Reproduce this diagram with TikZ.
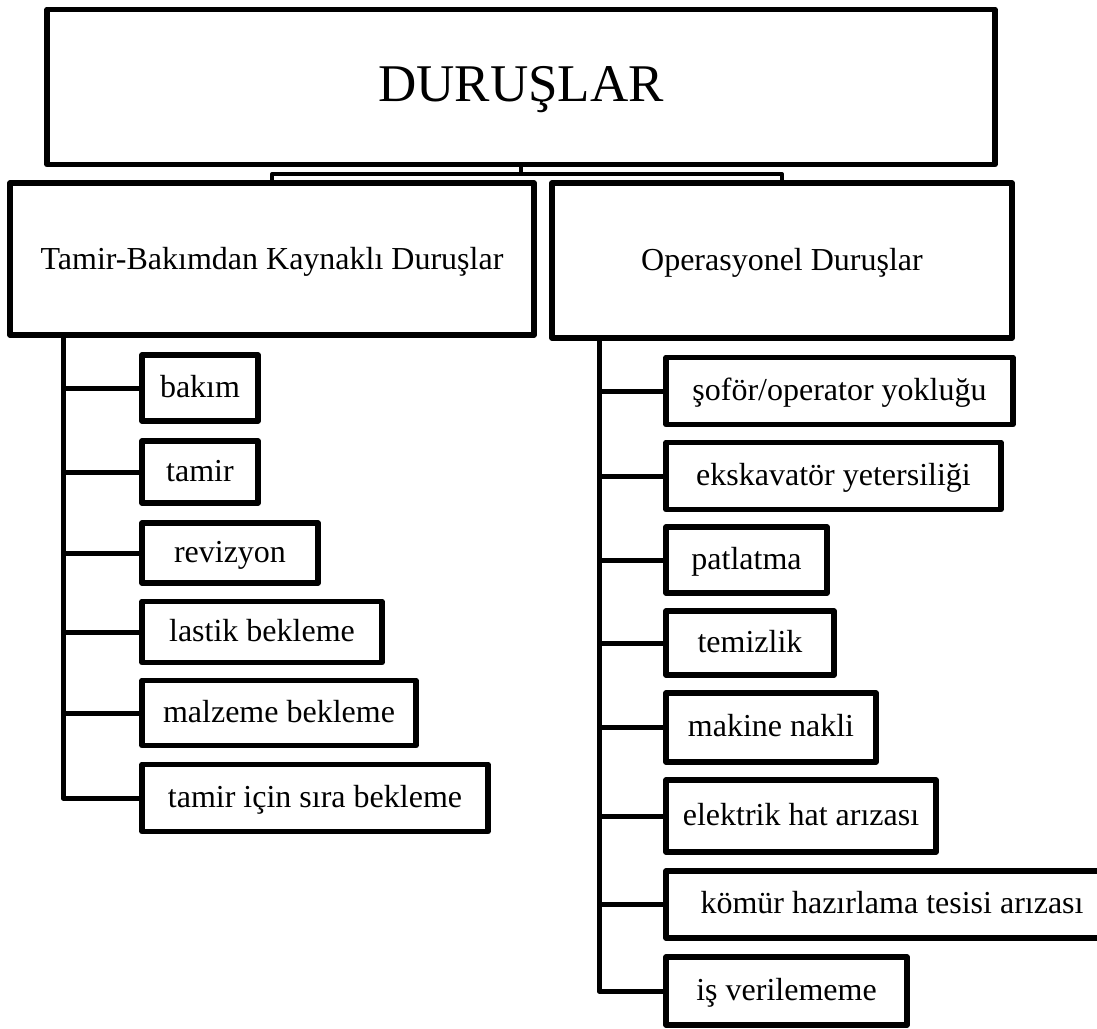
\documentclass[tikz,border=0pt]{standalone}
\usepackage{fontspec}
\setmainfont{Liberation Serif}
\tikzset{
  box/.style={draw, line width=5.5pt, inner sep=0pt, outer sep=0pt, align=center, line join=round, fill=white},
  itemtxt/.style={font=\fontsize{32}{38}\selectfont, text height=23pt, text depth=5pt},
  headtxt/.style={font=\fontsize{32}{38}\selectfont, text height=24pt, text depth=4pt},
  toptxt/.style={font=\fontsize{53}{60}\selectfont, text height=35pt, text depth=7pt},
  conn/.style={line width=5pt, line join=round},
  thinconn/.style={line width=4pt, line join=round}
}
\begin{document}
\begin{tikzpicture}[x=1pt, y=-1pt]
\useasboundingbox (0,0) rectangle (1097,1028);
\clip (0,0) rectangle (1097,1028);
% top
\node[box, toptxt, minimum width=948, minimum height=155] (T) at (521,87) {DURUŞLAR};
\coordinate (bar) at (521,174);
\draw[thinconn] (T.south) -- (bar);
% headers
\node[box, headtxt, minimum width=524, minimum height=152] (L) at (272,259) {Tamir-Bakımdan Kaynaklı Duruşlar};
\node[box, headtxt, minimum width=460, minimum height=155] (R) at (782,260.5) {Operasyonel Duruşlar};
\draw[thinconn] (L.north) |- (bar) -| (R.north);
% left items
\node[box, itemtxt, minimum width=116, minimum height=66] (a1) at (200,388) {bakım};
\node[box, itemtxt, minimum width=116, minimum height=62] (a2) at (200,472) {tamir};
\node[box, itemtxt, minimum width=176, minimum height=60] (a3) at (230,553) {revizyon};
\node[box, itemtxt, minimum width=240, minimum height=61] (a4) at (262,632) {lastik bekleme};
\node[box, itemtxt, minimum width=274, minimum height=65] (a5) at (279,713) {malzeme bekleme};
\node[box, itemtxt, minimum width=346, minimum height=67] (a6) at (315,798) {tamir için sıra bekleme};
\coordinate (lt) at (63,335);
\draw[conn] (lt) |- (a6.west);
\foreach \n in {a1,a2,a3,a4,a5} {\draw[conn] (lt |- \n.west) -- (\n.west);}
% right items
\node[box, itemtxt, minimum width=347, minimum height=67] (b1) at (839.5,391) {şoför/operator yokluğu};
\node[box, itemtxt, minimum width=335, minimum height=67] (b2) at (833.5,476) {ekskavatör yetersiliği};
\node[box, itemtxt, minimum width=161, minimum height=66] (b3) at (746.5,560) {patlatma};
\node[box, itemtxt, minimum width=168, minimum height=64] (b4) at (750,643) {temizlik};
\node[box, itemtxt, minimum width=210, minimum height=69] (b5) at (771,727.5) {makine nakli};
\node[box, itemtxt, minimum width=270, minimum height=72] (b6) at (801,816) {elektrik hat arızası};
\node[box, itemtxt, minimum width=452, minimum height=67] (b7) at (892,904.5) {kömür hazırlama tesisi arızası};
\node[box, itemtxt, minimum width=241, minimum height=68] (b8) at (786.5,991) {iş verilememe};
\coordinate (rt) at (599,338);
\draw[conn] (rt) |- (b8.west);
\foreach \n in {b1,b2,b3,b4,b5,b6,b7} {\draw[conn] (rt |- \n.west) -- (\n.west);}
\end{tikzpicture}
\end{document}
